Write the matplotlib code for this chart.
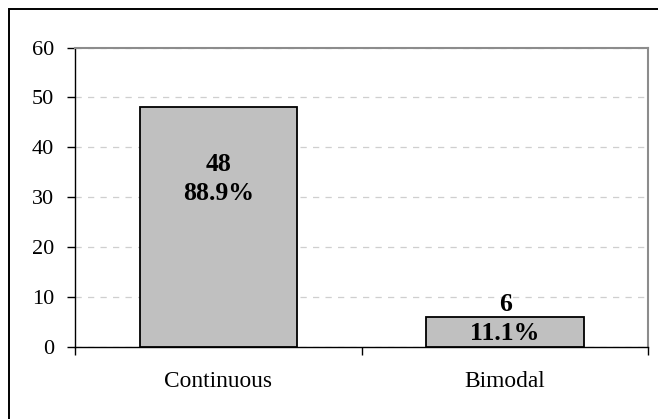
import numpy as np
import matplotlib.pyplot as plt
from matplotlib.patches import Rectangle

# counts per distribution type
categories = ['Continuous', 'Bimodal']
counts = [48, 6]
shares = [88.9, 11.1]
label_y = [33.6, 5.6]  # where the two-line value labels sit

plt.rcParams['font.family'] = ['Liberation Serif', 'DejaVu Serif']

fig = plt.figure(figsize=(6.58, 4.19), dpi=100)
ax = fig.add_axes([0.114, 0.1718, 0.8715, 0.7148])

x = np.arange(len(categories))
ax.bar(x, counts, width=0.55, color='#c0c0c0', edgecolor='black', linewidth=1.3, zorder=3)

for xi, c, s, ly in zip(x, counts, shares, label_y):
    ax.text(xi, ly, f'{c}\n{s:.1f}%', ha='center', va='center', fontsize=18.5,
            fontweight='bold', linespacing=1.35, zorder=4)

ax.set_xlim(-0.5, 1.5)
ax.set_ylim(0, 60)
ax.set_yticks(np.arange(0, 61, 10))
ax.set_xticks(x)
ax.set_xticklabels(categories, fontsize=16.8)
ax.set_xticks([-0.5, 0.5, 1.5], minor=True)
ax.tick_params(axis='x', which='major', length=0, pad=17)
ax.tick_params(axis='x', which='minor', length=6, width=1, direction='out')
ax.tick_params(axis='y', length=6, width=1, direction='out', pad=9, labelsize=16)

ax.yaxis.grid(True, color='#cfcfcf', linestyle=(0, (5, 5)), linewidth=0.9, zorder=0)
ax.set_axisbelow(True)

for side in ['left', 'bottom']:
    ax.spines[side].set_color('black')
    ax.spines[side].set_linewidth(1.0)
for side in ['top', 'right']:
    ax.spines[side].set_color('#8c8c8c')
    ax.spines[side].set_linewidth(1.5)

# outer frame around the chart
fig.patches.append(Rectangle((0.0144, -0.1), 1.2, 1.0797, transform=fig.transFigure,
                             fill=False, edgecolor='black', linewidth=1.4))

fig.savefig('out.png', dpi=100)
